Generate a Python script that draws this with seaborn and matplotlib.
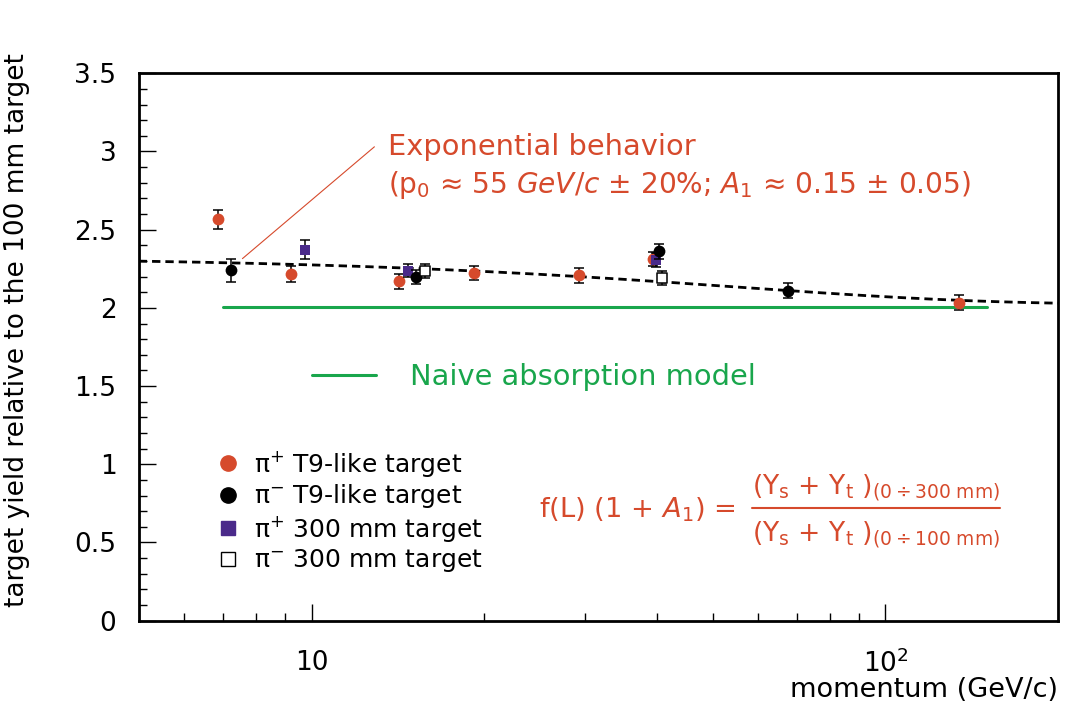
import numpy as np
import pandas as pd
import matplotlib
matplotlib.use("Agg")
import matplotlib.pyplot as plt
from matplotlib.lines import Line2D
from matplotlib.ticker import FixedLocator, NullFormatter, MultipleLocator
import seaborn as sns

# ---- measured ratios (yield 300 mm / yield 100 mm) vs beam momentum ----
pip_t9_p = [6.87, 9.22, 14.2, 19.2, 29.2, 39.3, 134.5]
pip_t9_y = [2.567, 2.217, 2.170, 2.226, 2.210, 2.315, 2.034]
pip_t9_err = [0.062, 0.050, 0.048, 0.045, 0.048, 0.045, 0.046]

pim_t9_p = [7.23, 15.2, 40.3, 67.7]
pim_t9_y = [2.240, 2.197, 2.361, 2.111]
pim_t9_err = [0.075, 0.045, 0.047, 0.048]

pip_300_p = [9.73, 14.7, 39.8]
pip_300_y = [2.372, 2.238, 2.304]
pip_300_err = [0.060, 0.040, 0.045]

pim_300_p = [15.75, 40.8]
pim_300_y = [2.234, 2.191]
pim_300_err = [0.045, 0.045]

# naive absorption model (flat)
naive_p = [7.0, 150.0]
naive_y = [2.005, 2.005]

# exponential fit: f(L) * (1 + A1 * exp(-p / p0))
FIT_FL = 2.022
FIT_A1 = 0.15
FIT_P0 = 55.0

legend_labels = [r"$\pi^{+}$ T9-like target", r"$\pi^{-}$ T9-like target",
                 r"$\pi^{+}$ 300 mm target", r"$\pi^{-}$ 300 mm target"]
x_tick_vals = [10, 100]
x_tick_labels = ["10", r"$10^{2}$"]
y_tick_vals = [0, 0.5, 1, 1.5, 2, 2.5, 3, 3.5]
y_tick_labels = ["0", "0.5", "1", "1.5", "2", "2.5", "3", "3.5"]

RED = "#d64a2c"
PURPLE = "#4a2a8a"
GREEN = "#19a64c"

sns.set_theme(style="white")
plt.rcParams["font.family"] = ["DejaVu Sans"]
plt.rcParams["mathtext.fontset"] = "dejavusans"
plt.rcParams["mathtext.default"] = "regular"
plt.rcParams["text.color"] = "black"
plt.rcParams["axes.labelcolor"] = "black"
plt.rcParams["xtick.color"] = "black"
plt.rcParams["ytick.color"] = "black"

fig = plt.figure(figsize=(10.77, 7.13), dpi=100)
ax = fig.add_axes([0.1288, 0.1295, 0.9826 - 0.1288, 0.8972 - 0.1295])
ax.set_xscale("log")
ax.set_xlim(5, 200)
ax.set_ylim(0, 3.5)

# fit curve
fit_p = np.geomspace(5, 200, 300)
fit_df = pd.DataFrame({"p": fit_p, "y": FIT_FL * (1 + FIT_A1 * np.exp(-fit_p / FIT_P0))})
sns.lineplot(data=fit_df, x="p", y="y", ax=ax, color="black", lw=2.0,
             linestyle=(0, (3, 1.8)), zorder=2)

# naive model
naive_df = pd.DataFrame({"p": naive_p, "y": naive_y})
sns.lineplot(data=naive_df, x="p", y="y", ax=ax, color=GREEN, lw=2.2, zorder=2)

series = [
    (pip_t9_p, pip_t9_y, pip_t9_err, "o", RED, RED),
    (pip_300_p, pip_300_y, pip_300_err, "s", PURPLE, PURPLE),
    (pim_t9_p, pim_t9_y, pim_t9_err, "o", "black", "black"),
    (pim_300_p, pim_300_y, pim_300_err, "s", "white", "black"),
]
z = 3
for p, y, e, m, fc, ec in series:
    ax.errorbar(p, y, yerr=e, fmt="none", ecolor="black", elinewidth=1.1,
                capsize=3.3, capthick=1.1, zorder=z)
    df = pd.DataFrame({"p": p, "y": y})
    sns.scatterplot(data=df, x="p", y="y", ax=ax, marker=m,
                    s=62 if m == "s" else 72,
                    color=fc, edgecolor=ec, linewidth=1.1 if fc == "white" else 0,
                    zorder=z + 1)
    z += 2

# axes styling
for s in ax.spines.values():
    s.set_linewidth(2.0)
    s.set_color("black")
ax.xaxis.set_major_locator(FixedLocator(x_tick_vals))
ax.set_xticklabels(x_tick_labels)
ax.xaxis.set_minor_locator(FixedLocator([6, 7, 8, 9, 20, 30, 40, 50, 60, 70, 80, 90]))
ax.xaxis.set_minor_formatter(NullFormatter())
ax.set_yticks(y_tick_vals)
ax.set_yticklabels(y_tick_labels)
ax.yaxis.set_minor_locator(MultipleLocator(0.1))
ax.tick_params(which="both", direction="in", top=False, right=False,
               bottom=True, left=True, color="black", width=1.0)
ax.tick_params(which="major", length=12.5)
ax.tick_params(which="minor", length=6)
ax.tick_params(axis="x", which="major", labelsize=19, pad=21)
ax.tick_params(axis="y", which="major", labelsize=19, pad=16)

ax.set_xlabel("momentum (GeV/c)", fontsize=19.5, ha="right")
ax.xaxis.set_label_coords(1.0, -0.103)
ax.set_ylabel("target yield relative to the 100 mm target", fontsize=19)
ax.yaxis.set_label_coords(-0.118, 0.53)

# pointer from the fit to its description
ax.annotate("", xy=(7.58, 2.315), xytext=(12.87, 3.03),
            arrowprops=dict(arrowstyle="-", color=RED, lw=0.8, shrinkA=0, shrinkB=0))
fig.text(388 / 1077, 1 - 147 / 713, "Exponential behavior", color=RED,
         fontsize=20.8, ha="left", va="center")
fig.text(388 / 1077, 1 - 185 / 713,
         r"(p$_0$ ≈ 55 $\it{GeV/c}$ ± 20%; $\it{A}_{1}$ ≈ 0.15 ± 0.05)",
         color=RED, fontsize=20.2, ha="left", va="center")

# legends
handles = [
    Line2D([], [], marker="o", ls="none", markersize=11, markerfacecolor=RED, markeredgecolor=RED),
    Line2D([], [], marker="o", ls="none", markersize=11, markerfacecolor="black", markeredgecolor="black"),
    Line2D([], [], marker="s", ls="none", markersize=10, markerfacecolor=PURPLE, markeredgecolor=PURPLE),
    Line2D([], [], marker="s", ls="none", markersize=10, markerfacecolor="white", markeredgecolor="black", markeredgewidth=1),
]
fig.legend(handles, legend_labels, loc="upper left",
           bbox_to_anchor=(217 / 1077, 1 - 449 / 713), frameon=False,
           fontsize=18, handlelength=0.9, handletextpad=0.6,
           labelspacing=0.14, borderpad=0, borderaxespad=0)

naive_handle = [Line2D([], [], color=GREEN, lw=2.2)]
fig.legend(naive_handle, ["Naive absorption model"], loc="center left",
           bbox_to_anchor=(312 / 1077, 1 - 377 / 713), frameon=False,
           fontsize=20.8, handlelength=2.2, handletextpad=1.2, borderpad=0,
           borderaxespad=0, labelcolor=GREEN)

# relation between the two target lengths
fig.text(735 / 1077, 1 - 510 / 713, r"f(L) (1 + $\it{A}_{1}$) =", color=RED,
         fontsize=19.7, ha="right", va="center")
fig.text(876 / 1077, 1 - 488 / 713,
         r"(Y$_\mathrm{s}$ + Y$_\mathrm{t}$ )$_{(0\div300\ mm)}$",
         color=RED, fontsize=19.2, ha="center", va="center")
fig.text(876 / 1077, 1 - 535 / 713,
         r"(Y$_\mathrm{s}$ + Y$_\mathrm{t}$ )$_{(0\div100\ mm)}$",
         color=RED, fontsize=19.2, ha="center", va="center")
fig.add_artist(Line2D([752 / 1077, 1000 / 1077], [1 - 508 / 713, 1 - 508 / 713],
                      color=RED, lw=1.5, transform=fig.transFigure))

fig.savefig("out.png", dpi=100)
